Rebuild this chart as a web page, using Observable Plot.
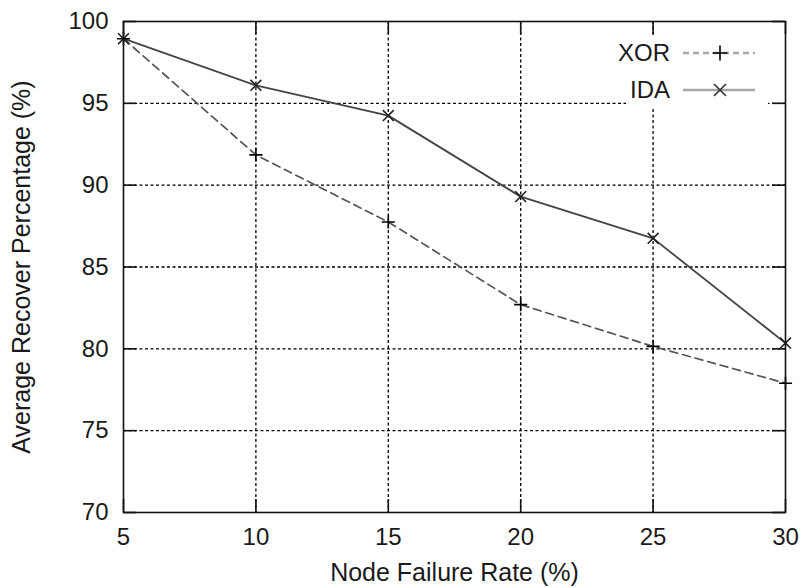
<!DOCTYPE html>
<html><head><meta charset="utf-8">
<script src="https://cdn.jsdelivr.net/npm/d3@7"></script>
<script src="https://cdn.jsdelivr.net/npm/@observablehq/plot@0.6"></script>
<style>
body{margin:0;background:#fff;}
#wrap{position:relative;width:805px;height:588px;}
#legend{position:absolute;left:626px;top:36px;width:142px;height:73px;background:#fff;}
#legend svg{overflow:visible;}
</style></head><body><div id="wrap"></div>
<script>
const failureRate = [5, 10, 15, 20, 25, 30];
const xorRecover = [98.95, 91.85, 87.75, 82.7, 80.15, 77.9];
const idaRecover = [98.95, 96.1, 94.25, 89.3, 86.75, 80.35];
const xTicks = [5, 10, 15, 20, 25, 30];
const yTicks = [70, 75, 80, 85, 90, 95, 100];
const xLabel = "Node Failure Rate (%)";
const yLabel = "Average Recover Percentage (%)";
const seriesNames = ["XOR", "IDA"];

const xorData = failureRate.map((x, i) => ({x, y: xorRecover[i], s: seriesNames[0]}));
const idaData = failureRate.map((x, i) => ({x, y: idaRecover[i], s: seriesNames[1]}));

const W = 805, H = 588, mL = 123, mR = 20, mT = 21, mB = 76;
const pw = W - mL - mR, ph = H - mT - mB, tk = 13;
const font = "'Liberation Sans', Arial, Helvetica, sans-serif";
const frameStyle = {stroke: "#111", strokeWidth: 1.6};

const chart = Plot.plot({
  width: W, height: H,
  marginLeft: mL, marginRight: mR, marginTop: mT, marginBottom: mB,
  style: {fontFamily: font, fontSize: "24px", color: "#1a1a1a", background: "#fff"},
  x: {domain: [5, 30]},
  y: {domain: [70, 100]},
  marks: [
    Plot.ruleX(xTicks.slice(1, -1), {stroke: "#000", strokeWidth: 1.3, strokeDasharray: "3,2.5"}),
    Plot.ruleY(yTicks.slice(1, -1), {stroke: "#000", strokeWidth: 1.3, strokeDasharray: "3,2.5"}),
    Plot.line(xorData, {x: "x", y: "y", stroke: "#555", strokeWidth: 1.7, strokeDasharray: "8,5"}),
    Plot.line(idaData, {x: "x", y: "y", stroke: "#444", strokeWidth: 1.8}),
    Plot.dot(xorData, {x: "x", y: "y", symbol: "plus", r: 4.3, stroke: "#000", strokeWidth: 1.6}),
    Plot.dot(idaData, {x: "x", y: "y", symbol: "times", r: 5, stroke: "#222", strokeWidth: 1.6}),
    Plot.ruleX(xTicks, {insetTop: ph - tk, ...frameStyle}),
    Plot.ruleX(xTicks, {insetBottom: ph - tk, ...frameStyle}),
    Plot.ruleY(yTicks, {insetRight: pw - tk, ...frameStyle}),
    Plot.ruleY(yTicks, {insetLeft: pw - tk, ...frameStyle}),
    Plot.frame(frameStyle),
    Plot.axisX(xTicks, {tickSize: 0, tickPadding: 15, label: null, tickFormat: d => String(d)}),
    Plot.axisY(yTicks, {tickSize: 0, tickPadding: 15, label: null, tickFormat: d => String(d)}),
    Plot.text([xLabel], {frameAnchor: "bottom", dy: 51, lineAnchor: "top", fontSize: 25, fill: "#1a1a1a"}),
    Plot.text([yLabel], {frameAnchor: "left", dx: -111, rotate: -90, lineAnchor: "top", textAnchor: "middle", fontSize: 25, fill: "#1a1a1a"})
  ]
});
const wrap = document.getElementById("wrap");
wrap.appendChild(chart);

// legend (inside plot, upper right, opaque box)
const leg = d3.select(wrap).append("div").attr("id", "legend")
  .append("svg").attr("width", 142).attr("height", 73)
  .style("font-family", font).style("font-size", "24px");
const rows = [
  {name: seriesNames[0], y: 17, dash: "6,4", mark: "plus"},
  {name: seriesNames[1], y: 54, dash: null, mark: "times"}
];
rows.forEach(r => {
  leg.append("text").attr("x", 44).attr("y", r.y).attr("text-anchor", "end")
    .attr("dy", "0.35em").attr("fill", "#1a1a1a").text(r.name);
  leg.append("line").attr("x1", 57).attr("x2", 129).attr("y1", r.y).attr("y2", r.y)
    .attr("stroke", "#a6a6a6").attr("stroke-width", 2.6)
    .attr("stroke-dasharray", r.dash);
  const cx = 94;
  if (r.mark === "plus") {
    leg.append("path").attr("d", `M${cx-7.5},${r.y}H${cx+7.5}M${cx},${r.y-7.5}V${r.y+7.5}`)
      .attr("stroke", "#000").attr("stroke-width", 1.6).attr("fill", "none");
  } else {
    leg.append("path").attr("d", `M${cx-6},${r.y-6}L${cx+6},${r.y+6}M${cx-6},${r.y+6}L${cx+6},${r.y-6}`)
      .attr("stroke", "#333").attr("stroke-width", 1.6).attr("fill", "none");
  }
});
</script></body></html>
